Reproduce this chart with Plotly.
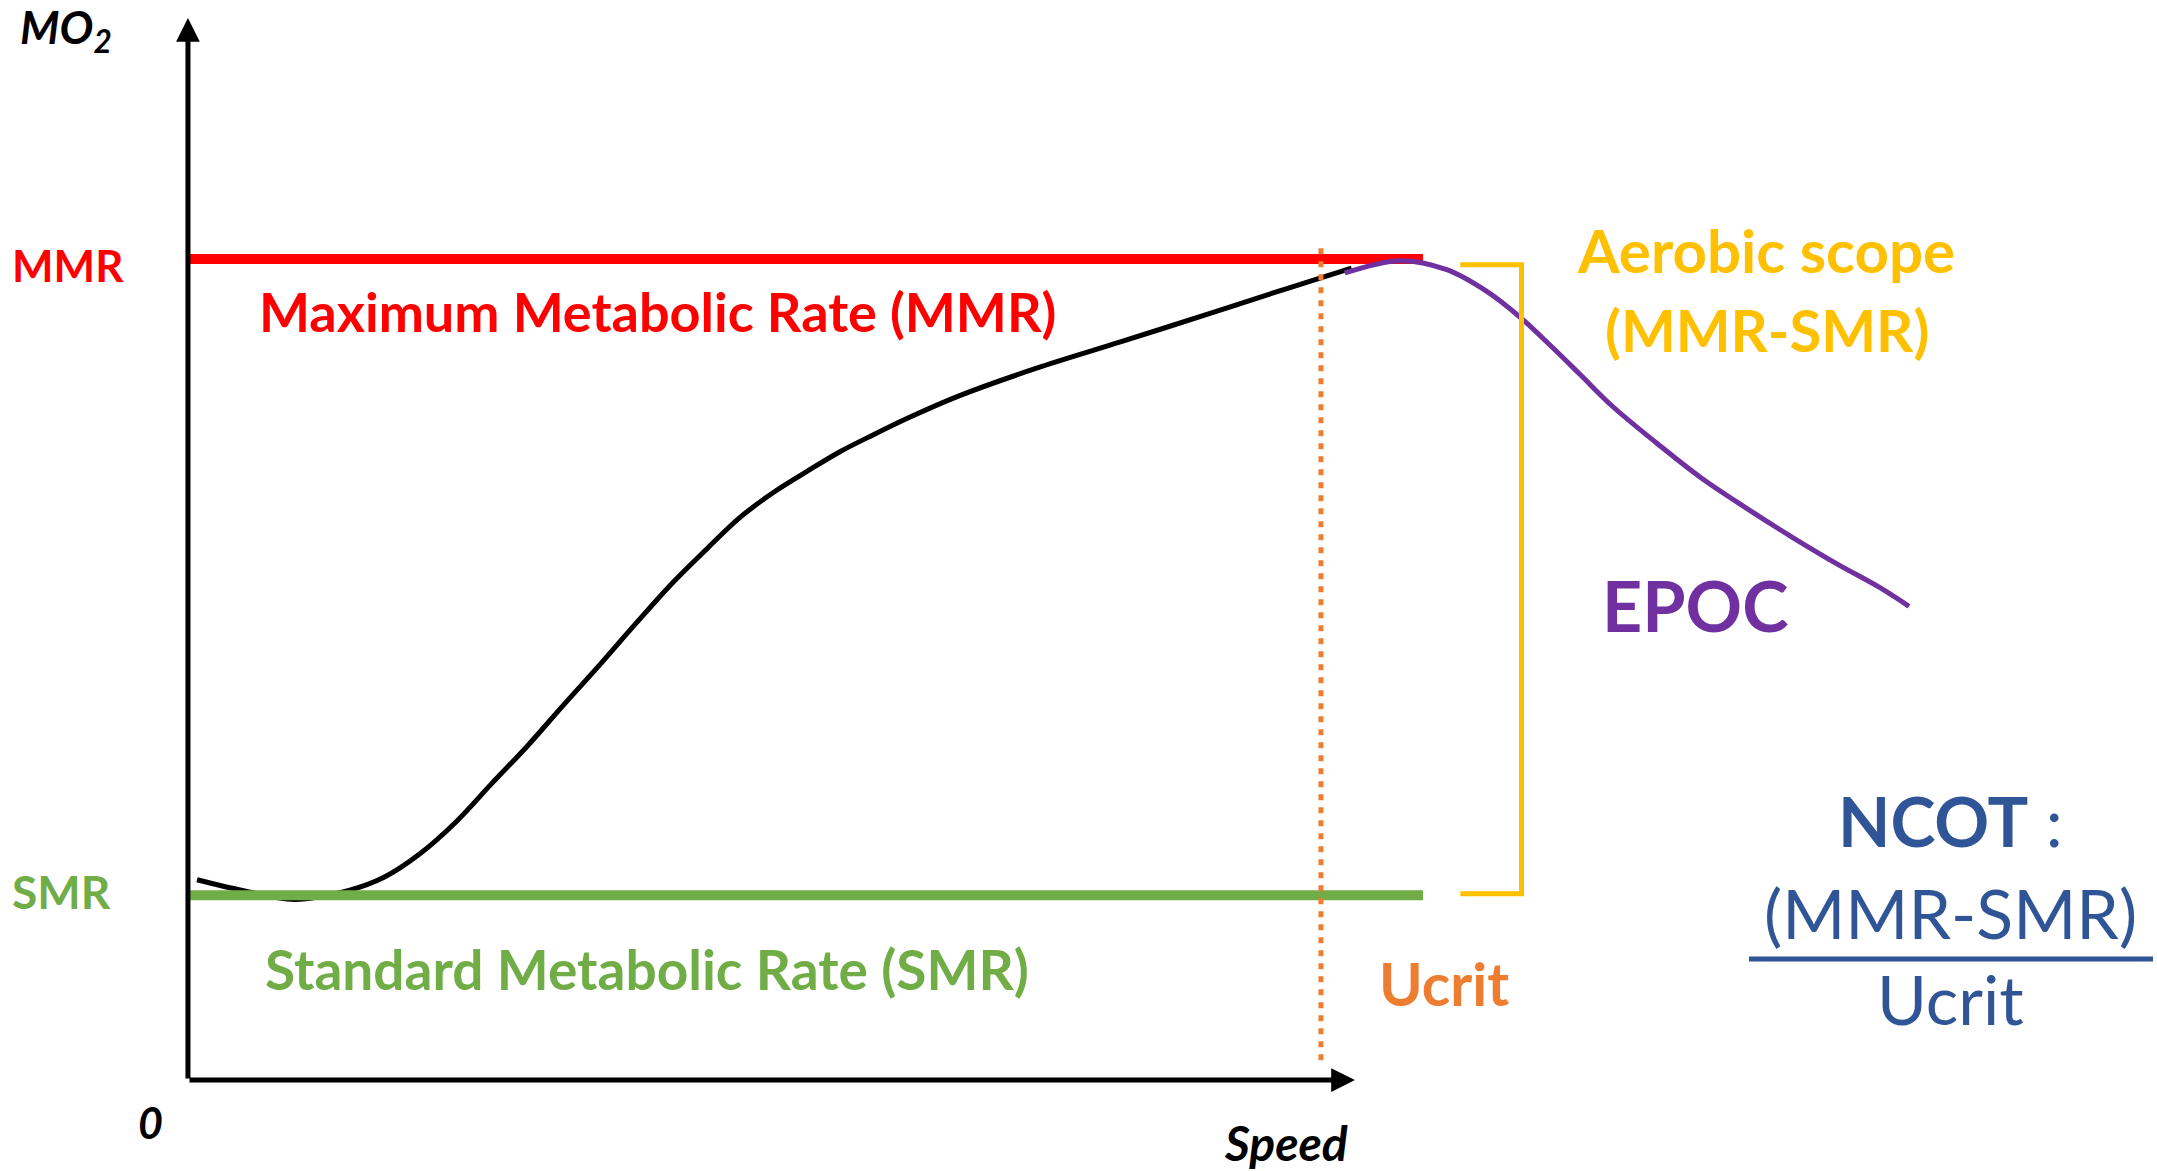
import plotly.graph_objects as go

W, H = 2157, 1171

# ---- data (arbitrary units: speed, MO2) ----
curve_speed = [0.8, 4.8, 9.4, 14.2, 17.3, 20.5, 23.7, 26.8, 29.9, 33.1, 36.3, 39.4, 42.8,
               45.8, 48.7, 51.6, 54.6, 57.5, 60.5, 63.5, 68.0, 74.9, 82.3, 89.8, 97.2, 102.7]
curve_mo2 = [24.4, 23.1, 22.0, 23.1, 24.7, 27.6, 31.5, 36.1, 40.6, 45.6, 50.5, 55.4, 60.6,
             64.7, 68.5, 71.5, 74.1, 76.5, 78.6, 80.6, 83.3, 86.7, 89.9, 93.2, 96.5, 98.9]

epoc_speed = [102.1, 107.0, 111.1, 114.7, 117.5, 120.3, 122.9, 125.7, 129.7, 133.6, 137.5,
              141.5, 145.5, 149.3, 151.9]
epoc_mo2 = [98.3, 99.8, 98.7, 96.0, 93.0, 89.4, 85.9, 82.1, 77.5, 73.3, 69.7, 66.2, 62.9,
            60.0, 57.7]

MMR = 100.0
SMR = 22.5
UCRIT = 100.0
rate_line_speed = [0.0, 109.0]
ucrit_mo2 = [2.4, 101.3]
bracket_speed = [112.3, 117.7, 117.7, 112.3]
bracket_mo2 = [99.3, 99.3, 22.7, 22.7]
axis_speed_max = 103.0
axis_mo2_max = 129.35

X_RANGE = [-16.59, 173.79]
Y_RANGE = [-11.08, 131.55]

RED = "#FF0000"
GREEN = "#70AD47"
GOLD = "#FFC000"
ORANGE = "#ED7D31"
PURPLE = "#7030A0"
BLUE = "#2F5597"
FONT = "Lato"

fig = go.Figure()


def line(x, y, color, width, dash=None, shape="linear"):
    fig.add_trace(go.Scatter(x=x, y=y, mode="lines", hoverinfo="skip", showlegend=False,
                             line=dict(color=color, width=width, dash=dash, shape=shape)))


line(curve_speed, curve_mo2, "black", 5, shape="spline")
line(rate_line_speed, [SMR, SMR], GREEN, 10)
line(rate_line_speed, [MMR, MMR], RED, 10)
line(epoc_speed, epoc_mo2, PURPLE, 5, shape="spline")
line([UCRIT, UCRIT], ucrit_mo2, ORANGE, 5, dash="6px,7px")
line(bracket_speed, bracket_mo2, GOLD, 5)

# axes arrows
fig.add_annotation(x=0, y=axis_mo2_max, ax=0, ay=0, xref="x", yref="y", axref="x", ayref="y",
                   text="", showarrow=True, arrowhead=2, arrowsize=0.95, arrowwidth=5,
                   arrowcolor="black", standoff=0)
fig.add_annotation(x=axis_speed_max, y=0, ax=0, ay=0, xref="x", yref="y", axref="x", ayref="y",
                   text="", showarrow=True, arrowhead=2, arrowsize=0.95, arrowwidth=5,
                   arrowcolor="black", standoff=0)


def txt(text, px, py, size, color, xanchor="left", family=FONT):
    fig.add_annotation(x=px / W, y=1 - py / H, xref="paper", yref="paper", text=text,
                       showarrow=False, xanchor=xanchor, yanchor="middle",
                       font=dict(family=family, size=size, color=color))


txt("<b><i>MO<sub>2</sub></i></b>", 18, 30, 45, "black")
txt("<b>MMR</b>", 10, 265, 44, RED)
txt("<b>SMR</b>", 10, 891, 46, GREEN)
txt("<b>Maximum Metabolic Rate (MMR)</b>", 257, 311, 54, RED)
txt("<b>Standard Metabolic Rate (SMR)</b>", 263, 969, 55, GREEN)
txt("<b>Aerobic scope</b>", 1766, 250, 60, GOLD, "center")
txt("<b>(MMR-SMR)</b>", 1767, 329, 58, GOLD, "center")
txt("<b>EPOC</b>", 1600, 605, 70, PURPLE)
txt("<b>Ucrit</b>", 1377, 983, 59, ORANGE)
txt("<b>NCOT</b> :", 1950, 820, 68, BLUE, "center")
txt("(MMR-SMR)", 1950, 912, 68, BLUE, "center")
txt("Ucrit", 1950, 998, 68, BLUE, "center")
txt("<b><i>0</i></b>", 136, 1122, 43, "black")
txt("<b><i>Speed</i></b>", 1222, 1142, 48, "black")

fig.add_shape(type="line", xref="paper", yref="paper", x0=1749 / W, x1=2153 / W,
              y0=1 - 959 / H, y1=1 - 959 / H, line=dict(color=BLUE, width=5))

fig.update_layout(
    width=W, height=H, margin=dict(l=0, r=0, t=0, b=0),
    paper_bgcolor="white", plot_bgcolor="white",
    xaxis=dict(range=X_RANGE, visible=False, fixedrange=True),
    yaxis=dict(range=Y_RANGE, visible=False, fixedrange=True),
)

fig.write_html("out.html", config={"displayModeBar": False},
               post_script="document.body.style.margin='0';document.body.style.overflow='hidden';")
